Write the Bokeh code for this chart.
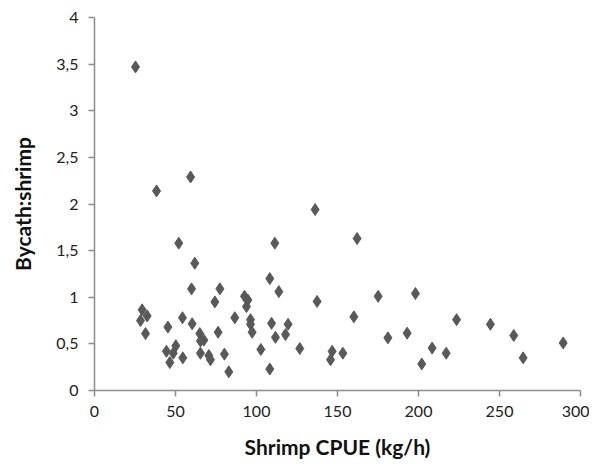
from bokeh.plotting import figure
from bokeh.models import Range1d, FixedTicker, ColumnDataSource
from bokeh.embed import file_html
from bokeh.resources import INLINE

cpue = [25.3, 59.3, 38.3, 52.0, 111.3, 61.9, 108.2, 59.9, 77.4, 113.8, 92.6, 94.7,
        74.3, 93.8, 29.4, 32.5, 28.4, 31.5, 45.3, 54.3, 60.3, 86.6, 96.3, 96.3,
        97.3, 109.3, 119.5, 111.7, 117.9, 65.0, 67.5, 65.4, 76.3, 50.2, 44.4, 48.6,
        46.5, 54.5, 65.4, 70.6, 71.6, 80.2, 82.9, 102.7, 108.2, 136.2, 162.1, 137.4,
        175.1, 198.1, 160.1, 126.7, 146.7, 145.7, 153.3, 181.1, 193.0, 223.5, 244.4,
        258.8, 289.3, 264.6, 208.4, 217.1, 202.0]
ratio = [3.47, 2.29, 2.14, 1.58, 1.58, 1.365, 1.20, 1.09, 1.09, 1.06, 1.01, 0.97,
         0.95, 0.90, 0.865, 0.80, 0.75, 0.61, 0.68, 0.78, 0.715, 0.78, 0.76, 0.71,
         0.625, 0.72, 0.71, 0.57, 0.60, 0.61, 0.54, 0.53, 0.625, 0.48, 0.42, 0.40,
         0.30, 0.35, 0.40, 0.375, 0.33, 0.39, 0.20, 0.44, 0.23, 1.94, 1.63, 0.955,
         1.01, 1.04, 0.79, 0.45, 0.42, 0.33, 0.40, 0.565, 0.615, 0.76, 0.71,
         0.59, 0.51, 0.35, 0.455, 0.40, 0.285]

x_ticks = [0, 50, 100, 150, 200, 250, 300]
y_ticks = [0, 0.5, 1, 1.5, 2, 2.5, 3, 3.5, 4]
y_tick_labels = ["0", "0,5", "1", "1,5", "2", "2,5", "3", "3,5", "4"]
x_title = "Shrimp CPUE (kg/h)"
y_title = "Bycath:shrimp"

src = ColumnDataSource(dict(x=cpue, y=ratio))

p = figure(width=589, height=456, output_backend="svg", toolbar_location=None,
           x_range=Range1d(0, 300), y_range=Range1d(0, 4),
           frame_width=486, frame_height=373,
           min_border_left=94, min_border_top=17, min_border_right=9, min_border_bottom=66)
p.outline_line_color = None
p.grid.visible = False
p.background_fill_color = "white"

p.scatter("x", "y", source=src, marker="diamond", size=12,
          fill_color="#595959", line_color="#595959")

axis_col = "#8c8c8c"
font = "Lato"
for ax in (p.xaxis[0], p.yaxis[0]):
    ax.axis_line_color = axis_col
    ax.axis_line_width = 1.5
    ax.major_tick_line_color = axis_col
    ax.major_tick_line_width = 1.5
    ax.major_tick_out = 6
    ax.major_tick_in = 0
    ax.minor_tick_line_color = None
    ax.major_label_text_font = font
    ax.major_label_text_font_size = "16px"
    ax.major_label_text_color = "#222222"
    ax.axis_label_text_font = font
    ax.axis_label_text_font_size = "21px"
    ax.axis_label_text_font_style = "bold"
    ax.axis_label_text_color = "#111111"

p.xaxis.ticker = FixedTicker(ticks=x_ticks)
p.yaxis.ticker = FixedTicker(ticks=y_ticks)
p.yaxis.major_label_overrides = {t: l for t, l in zip(y_ticks, y_tick_labels)}
p.xaxis.axis_label = x_title
p.yaxis.axis_label = y_title
p.xaxis.major_label_standoff = 9
p.yaxis.major_label_standoff = 10
p.xaxis.axis_label_standoff = 14
p.yaxis.axis_label_standoff = 18

open("out.html", "w").write(file_html(p, INLINE))
